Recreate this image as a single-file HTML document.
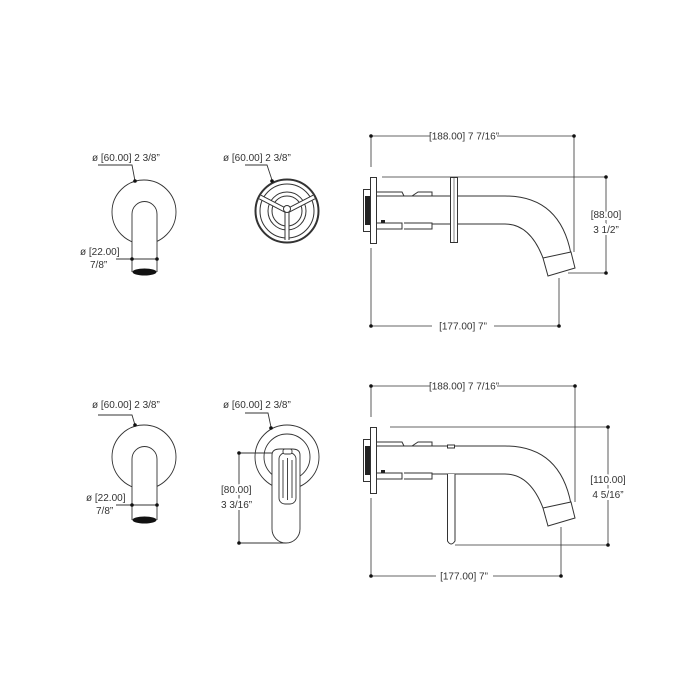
<!DOCTYPE html>
<html><head><meta charset="utf-8"><style>
html,body{margin:0;padding:0;background:#fff;}
svg{display:block;}
text{font-family:"Liberation Sans",sans-serif;font-size:10px;fill:#333;}
</style></head><body>
<svg width="700" height="700" viewBox="0 0 700 700" xmlns="http://www.w3.org/2000/svg">
<defs>
<g id="side" fill="none" stroke="#333" stroke-width="1">
  <rect x="370.5" y="177.5" width="6" height="66" fill="#fff"/>
  <rect x="363.5" y="189.5" width="7" height="42" fill="#fff"/>
  <rect x="365" y="196" width="5" height="29" fill="#222" stroke="none"/>
  <path d="M376 192 H402 L404 196 H412 L418 192 H432 V196"/>
  <path d="M376 196 H505 Q560 196 571 254"/>
  <path d="M376 223 H402 V229 H376 M404 223 H432 V229 H404"/>
  <path d="M432 224 H505 Q530 224 543 258"/>
  <path d="M543 258 L571 252 L575 268 L548 276 Z" fill="#fff"/>
  <rect x="381" y="220" width="4" height="3" fill="#222" stroke="none"/>
</g>
<g id="dot"><circle r="1.8" fill="#111"/></g>
</defs>

<g stroke="#333" stroke-width="0.8" fill="none">
  <!-- top side view dims -->
  <path d="M371 136 H430 M497 136 H574 M371 136 V167 M371 248 V326 M574 136 V252"/>
  <path d="M382 177 H606 V273 H568"/>
  <path d="M371 326 H432 M494 326 H559 V278"/>
  <!-- bottom side view dims -->
  <path d="M371 386 H430 M497 386 H575 M371 386 V417 M371 498 V576 M575 386 V502"/>
  <path d="M390 427 H608 V545 H455"/>
  <path d="M371 576 H436 M493 576 H561 V527"/>
</g>
<use href="#side"/>
<use href="#side" transform="translate(0,250)"/>
<!-- collar top -->
<rect x="450.5" y="177.5" width="7" height="65" fill="#fff" stroke="#333"/>
<line x1="454" y1="177" x2="454" y2="243" stroke="#333" stroke-width="0.6"/>
<!-- blade bottom -->
<rect x="447.5" y="445" width="7" height="3" fill="#fff" stroke="#333"/>
<path d="M447.5 474 V541 Q451 547 455 541 V474" fill="#fff" stroke="#333"/>

<g fill="#111">
<circle cx="371" cy="136" r="1.8"/><circle cx="574" cy="136" r="1.8"/>
<circle cx="606" cy="177" r="1.8"/><circle cx="606" cy="273" r="1.8"/>
<circle cx="371" cy="326" r="1.8"/><circle cx="559" cy="326" r="1.8"/>
<circle cx="371" cy="386" r="1.8"/><circle cx="575" cy="386" r="1.8"/>
<circle cx="608" cy="427" r="1.8"/><circle cx="608" cy="545" r="1.8"/>
<circle cx="371" cy="576" r="1.8"/><circle cx="561" cy="576" r="1.8"/>
</g>
<text x="464" y="139.5" text-anchor="middle">[188.00] 7 7/16”</text>
<text x="464" y="389.5" text-anchor="middle">[188.00] 7 7/16”</text>
<text x="463" y="329.5" text-anchor="middle">[177.00] 7”</text>
<text x="464" y="579.5" text-anchor="middle">[177.00] 7”</text>
<text x="606" y="218" text-anchor="middle" fill="#fff" stroke="#fff" stroke-width="4">[88.00]</text>
<text x="606" y="218" text-anchor="middle">[88.00]</text>
<text x="606" y="233" text-anchor="middle" stroke="#fff" stroke-width="4">3 1/2”</text>
<text x="606" y="233" text-anchor="middle">3 1/2”</text>
<text x="608" y="483" text-anchor="middle" stroke="#fff" stroke-width="4">[110.00]</text>
<text x="608" y="483" text-anchor="middle">[110.00]</text>
<text x="608" y="498" text-anchor="middle" stroke="#fff" stroke-width="4">4 5/16”</text>
<text x="608" y="498" text-anchor="middle">4 5/16”</text>

<!-- left top view -->
<g fill="none" stroke="#333" stroke-width="0.9">
  <circle cx="144" cy="212" r="32"/>
  <path d="M132 272 V214 A12.5 12.5 0 0 1 157 214 V272" fill="#fff"/>
  <path d="M132 214 V214"/>
  <path d="M116 259 H157 M98 165 H132 L135 181"/>
</g>
<ellipse cx="144.5" cy="272" rx="12" ry="3.5" fill="#111"/>
<circle cx="132" cy="259" r="1.8" fill="#111"/><circle cx="157" cy="259" r="1.8" fill="#111"/><circle cx="135" cy="181" r="1.8" fill="#111"/>
<text x="92" y="161">ø [60.00] 2 3/8”</text>
<text x="80" y="255">ø [22.00]</text>
<text x="90" y="268">7/8”</text>

<!-- left bottom view -->
<g fill="none" stroke="#333" stroke-width="0.9">
  <circle cx="144" cy="457" r="32"/>
  <path d="M132 520 V459 A12.5 12.5 0 0 1 157 459 V520" fill="#fff"/>
  <path d="M116 505 H157 M98 415 H132 L135 425"/>
</g>
<ellipse cx="144.5" cy="520" rx="12" ry="3.5" fill="#111"/>
<circle cx="132" cy="505" r="1.8" fill="#111"/><circle cx="157" cy="505" r="1.8" fill="#111"/><circle cx="135" cy="425" r="1.8" fill="#111"/>
<text x="92" y="408">ø [60.00] 2 3/8”</text>
<text x="86" y="501">ø [22.00]</text>
<text x="96" y="514">7/8”</text>

<!-- wheel top middle -->
<g fill="none" stroke="#333">
  <circle cx="287" cy="211" r="31.5" stroke-width="2"/>
  <circle cx="287" cy="211" r="27" stroke-width="1"/>
  <circle cx="287" cy="211" r="19" stroke-width="1"/>
  <circle cx="287" cy="211" r="15" stroke-width="1"/>
  <path d="M287 211 L260 197 M287 211 L314 197 M287 211 V240" stroke-width="5" stroke="#333"/>
  <path d="M287 211 L260 197 M287 211 L314 197 M287 211 V240" stroke-width="3" stroke="#fff"/>
  <circle cx="287" cy="209" r="3.5" fill="#fff" stroke-width="1"/>
  <path d="M245 165 H267 L272 180" stroke-width="0.9"/>
</g>
<circle cx="272" cy="181" r="1.8" fill="#111"/>
<text x="223" y="161">ø [60.00] 2 3/8”</text>

<!-- lever bottom middle -->
<g fill="none" stroke="#333" stroke-width="0.9">
  <circle cx="287" cy="457" r="32"/>
  <circle cx="287" cy="457" r="23"/>
  <path d="M239 453 H272 M239 543 H286 M239 453 V543"/>
  <path d="M272 455 Q272 449 280 449 H292 Q300 449 300 455 V529 A14 14 0 0 1 272 529 Z" fill="#fff"/>
  <rect x="279" y="453" width="17" height="51" rx="6" fill="#fff"/>
  <path d="M283 460 V498 M287.5 458 V500 M292 460 V498"/>
  <rect x="283" y="449" width="9" height="5" rx="2" fill="#fff"/>
  <path d="M245 413 H268 L271 427"/>
</g>
<circle cx="239" cy="453" r="1.8" fill="#111"/><circle cx="239" cy="543" r="1.8" fill="#111"/><circle cx="271" cy="428" r="1.8" fill="#111"/>
<text x="223" y="408">ø [60.00] 2 3/8”</text>
<text x="221" y="493" stroke="#fff" stroke-width="4">[80.00]</text>
<text x="221" y="493">[80.00]</text>
<text x="221" y="508" stroke="#fff" stroke-width="4">3 3/16”</text>
<text x="221" y="508">3 3/16”</text>
</svg>
</body></html>
